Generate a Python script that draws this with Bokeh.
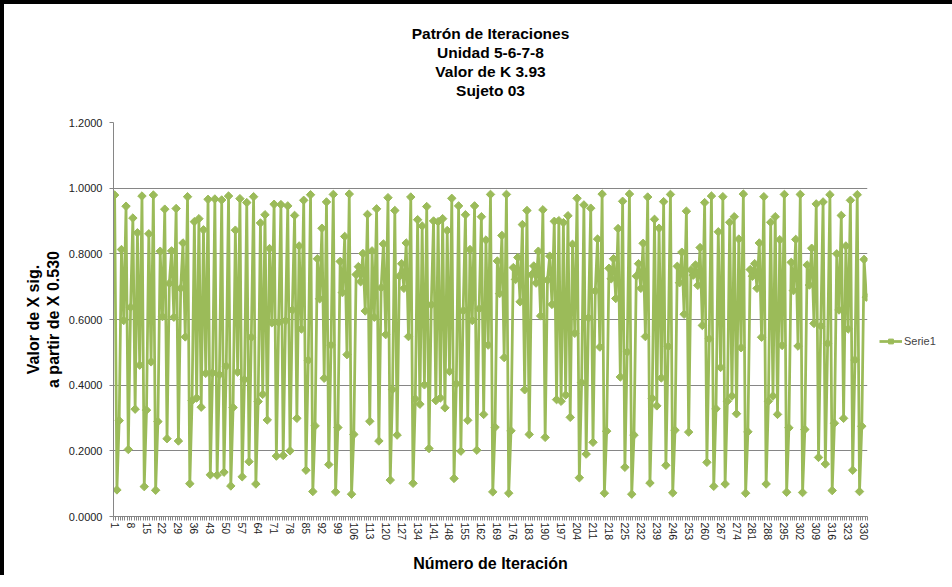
from bokeh.plotting import figure
from bokeh.models import (FixedTicker, Legend, LegendItem, ColumnDataSource, Range1d,
                          NumeralTickFormatter, Title)
from bokeh.embed import file_html
from bokeh.resources import INLINE
import math

# ---- data ----
iteracion = list(range(1, 332))
valor_x = [
    0.979, 0.081, 0.292, 0.813, 0.597, 0.945, 0.204, 0.637, 0.909, 0.327,
    0.864, 0.461, 0.976, 0.091, 0.324, 0.861, 0.471, 0.979, 0.080, 0.289,
    0.808, 0.609, 0.936, 0.237, 0.710, 0.809, 0.607, 0.938, 0.230, 0.695,
    0.833, 0.547, 0.974, 0.100, 0.353, 0.898, 0.361, 0.907, 0.333, 0.873,
    0.436, 0.966, 0.127, 0.437, 0.967, 0.126, 0.432, 0.964, 0.135, 0.458,
    0.976, 0.093, 0.332, 0.872, 0.440, 0.968, 0.121, 0.417, 0.956, 0.167,
    0.546, 0.974, 0.099, 0.350, 0.894, 0.372, 0.919, 0.294, 0.816, 0.590,
    0.951, 0.184, 0.591, 0.950, 0.186, 0.596, 0.946, 0.200, 0.629, 0.917,
    0.299, 0.824, 0.571, 0.963, 0.141, 0.476, 0.980, 0.076, 0.276, 0.785,
    0.663, 0.878, 0.421, 0.958, 0.158, 0.522, 0.981, 0.075, 0.271, 0.777,
    0.682, 0.853, 0.493, 0.982, 0.068, 0.250, 0.737, 0.761, 0.715, 0.801,
    0.626, 0.920, 0.290, 0.809, 0.607, 0.937, 0.230, 0.697, 0.830, 0.554,
    0.971, 0.111, 0.387, 0.932, 0.248, 0.732, 0.770, 0.695, 0.833, 0.548,
    0.973, 0.101, 0.358, 0.904, 0.342, 0.885, 0.401, 0.944, 0.207, 0.645,
    0.900, 0.353, 0.898, 0.361, 0.907, 0.331, 0.871, 0.442, 0.969, 0.116,
    0.404, 0.946, 0.199, 0.627, 0.919, 0.293, 0.813, 0.597, 0.946, 0.202,
    0.633, 0.913, 0.311, 0.842, 0.522, 0.981, 0.075, 0.272, 0.778, 0.679,
    0.856, 0.484, 0.981, 0.071, 0.261, 0.758, 0.722, 0.789, 0.654, 0.889,
    0.386, 0.932, 0.250, 0.736, 0.763, 0.711, 0.808, 0.611, 0.934, 0.241,
    0.720, 0.793, 0.646, 0.899, 0.356, 0.901, 0.351, 0.895, 0.370, 0.916,
    0.302, 0.829, 0.558, 0.969, 0.118, 0.408, 0.949, 0.190, 0.605, 0.939,
    0.226, 0.687, 0.845, 0.516, 0.982, 0.071, 0.260, 0.756, 0.724, 0.785,
    0.664, 0.877, 0.425, 0.960, 0.150, 0.501, 0.982, 0.068, 0.248, 0.732,
    0.770, 0.695, 0.832, 0.548, 0.973, 0.102, 0.360, 0.905, 0.337, 0.878,
    0.422, 0.959, 0.156, 0.518, 0.981, 0.072, 0.263, 0.762, 0.712, 0.805,
    0.616, 0.930, 0.257, 0.751, 0.735, 0.766, 0.704, 0.819, 0.582, 0.956,
    0.165, 0.541, 0.976, 0.092, 0.328, 0.867, 0.454, 0.974, 0.099, 0.351,
    0.896, 0.367, 0.913, 0.313, 0.845, 0.514, 0.982, 0.071, 0.258, 0.752,
    0.732, 0.770, 0.695, 0.833, 0.546, 0.974, 0.099, 0.351, 0.896, 0.367,
    0.913, 0.311, 0.843, 0.521, 0.981, 0.074, 0.270, 0.774, 0.688, 0.844,
    0.519, 0.981, 0.073, 0.265, 0.766, 0.705, 0.817, 0.588, 0.952, 0.180,
    0.580, 0.958, 0.160, 0.527, 0.980, 0.079, 0.284, 0.800, 0.629, 0.917,
    0.299, 0.824, 0.571, 0.963, 0.141, 0.477, 0.980, 0.076, 0.275, 0.783,
    0.668,
]
x_tick_labels = list(range(1, 331, 7))
y_ticks = [0.0, 0.2, 0.4, 0.6, 0.8, 1.0, 1.2]
title_lines = ["Patrón de Iteraciones", "Unidad 5-6-7-8", "Valor de K 3.93", "Sujeto 03"]
serie_name = "Serie1"

GREEN = "#9BBB59"
AXIS = "#868686"
FONT = "Liberation Sans"

p = figure(frame_width=754, frame_height=394, output_backend="svg", toolbar_location=None,
           title=None, x_range=Range1d(0.5, len(iteracion) + 0.5), y_range=Range1d(0, 1.2),
           min_border_left=109, min_border_top=118, min_border_right=81, min_border_bottom=58)
p.styles = {"border-left": "4px solid black", "border-top": "4px solid black"}
p.outline_line_color = None
p.background_fill_color = "white"
p.border_fill_color = "white"

# titles: first added sits nearest the plot area
p.add_layout(Title(text=" ", text_font_size="1px", standoff=21, align="center"), "above")
for line in reversed(title_lines):
    p.add_layout(Title(text=line, align="center", text_font=FONT, text_font_size="15.5px",
                       text_font_style="bold", text_color="black", standoff=0), "above")

src = ColumnDataSource(data=dict(x=iteracion, y=valor_x))
r1 = p.line("x", "y", source=src, line_color=GREEN, line_width=2.75)
r2 = p.scatter("x", "y", source=src, marker="square", angle=math.pi / 4, size=6,
               fill_color=GREEN, line_color=GREEN)
spacer = p.line(x=[], y=[], line_alpha=0)

p.yaxis.ticker = FixedTicker(ticks=y_ticks)
p.yaxis.formatter = NumeralTickFormatter(format="0.0000")
p.xaxis.ticker = FixedTicker(ticks=x_tick_labels,
                             minor_ticks=[i + 0.5 for i in range(0, len(iteracion) + 1)])
for ax in (p.xaxis[0], p.yaxis[0]):
    ax.axis_line_color = AXIS
    ax.major_tick_line_color = AXIS
    ax.minor_tick_line_color = AXIS
    ax.major_tick_in = 0
    ax.major_tick_out = 4
    ax.minor_tick_in = 0
    ax.minor_tick_out = 4
    ax.major_label_text_font = FONT
    ax.major_label_text_color = "#222222"
    ax.axis_label_text_font = FONT
    ax.axis_label_text_font_style = "bold"
    ax.axis_label_text_font_size = "16px"
    ax.axis_label_text_color = "black"
p.yaxis.minor_tick_line_color = None
p.yaxis.major_label_text_font_size = "11px"
p.yaxis.major_label_standoff = 7
p.yaxis.axis_label = "Valor de X sig.\na partir de X 0.530"
p.yaxis.axis_label_text_line_height = 1.15
p.yaxis.axis_label_standoff = 4
p.xaxis.major_tick_line_color = None
p.xaxis.major_label_text_font_size = "10.5px"
p.xaxis.major_label_orientation = "vertical"
p.xaxis.major_label_standoff = 2
p.xaxis.axis_label = "Número de Iteración"
p.xaxis.axis_label_standoff = 12

p.xgrid.grid_line_color = None
p.ygrid.grid_line_color = AXIS

legend = Legend(items=[LegendItem(label=" ", renderers=[spacer]),
                       LegendItem(label=serie_name, renderers=[r1, r2])],
                location="left", border_line_color=None, background_fill_alpha=0,
                margin=12, padding=0, spacing=32,
                glyph_width=23, glyph_height=12, label_standoff=2,
                label_text_font=FONT, label_text_font_size="11px")
p.add_layout(legend, "right")

open("out.html", "w").write(file_html(p, INLINE))
